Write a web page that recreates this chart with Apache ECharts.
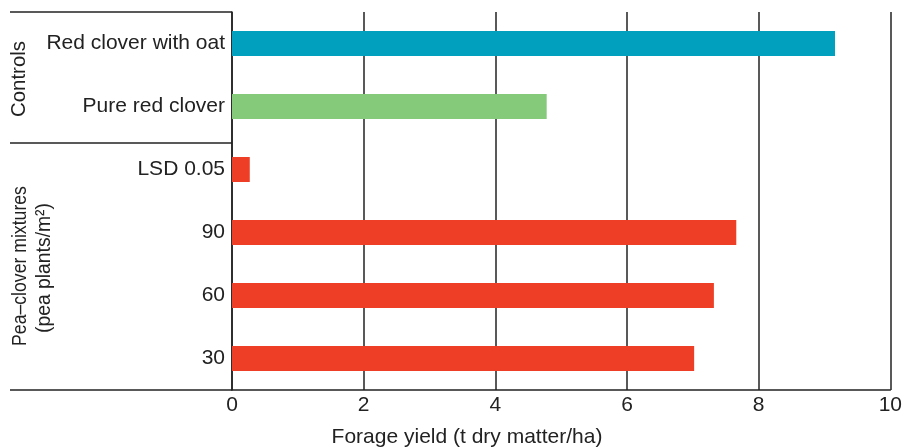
<!DOCTYPE html>
<html><head><meta charset="utf-8">
<script src="https://cdn.jsdelivr.net/npm/echarts@6/dist/echarts.min.js"></script>
<style>html,body{margin:0;padding:0;background:#fff}#c{width:905px;height:448px}</style>
</head><body><div id="c"></div>
<script>
const categories = ["Red clover with oat", "Pure red clover", "LSD 0.05", "90", "60", "30"];
const values = [9.16, 4.78, 0.27, 7.66, 7.32, 7.02];
const barColors = ["#00A0BE", "#85C97B", "#EF3E26", "#EF3E26", "#EF3E26", "#EF3E26"];
const xTicks = [0, 2, 4, 6, 8, 10];
const groupLabels = ["Controls", "Pea\u2013clover mixtures", "(pea plants/m\u00B2)"];
const xTitle = "Forage yield (t dry matter/ha)";

const font = "Liberation Sans, Arial, Helvetica, sans-serif";
const fs = 21;
const chart = echarts.init(document.getElementById('c'), null, {renderer: 'canvas'});
const lineStyle = {stroke: '#222', lineWidth: 1.5};
chart.setOption({
  animation: false,
  grid: {left: 232, right: 14, top: 12, bottom: 58, containLabel: false},
  xAxis: {
    type: 'value', min: xTicks[0], max: xTicks[xTicks.length - 1], interval: 2,
    axisLine: {show: true, lineStyle: {color: '#222', width: 1.5}},
    axisTick: {show: false},
    axisLabel: {fontFamily: font, fontSize: fs, color: '#222', margin: 5},
    splitLine: {show: true, lineStyle: {color: '#222', width: 1.5}}
  },
  yAxis: {
    type: 'category', data: categories, inverse: true,
    axisLine: {show: true, lineStyle: {color: '#222', width: 1.5}},
    axisTick: {show: false},
    axisLabel: {fontFamily: font, fontSize: fs, color: '#222', margin: 7}
  },
  series: [{
    type: 'bar', barWidth: 25,
    data: values.map((v, i) => ({value: v, itemStyle: {color: barColors[i]}}))
  }],
  graphic: [
    {type: 'line', shape: {x1: 10, y1: 12, x2: 232, y2: 12}, style: lineStyle},
    {type: 'line', shape: {x1: 10, y1: 143, x2: 232, y2: 143}, style: lineStyle},
    {type: 'line', shape: {x1: 10, y1: 390, x2: 232, y2: 390}, style: lineStyle},
    {type: 'text', x: 19, y: 79, rotation: Math.PI / 2, scaleX: 0.97,
     style: {text: groupLabels[0], fontFamily: font, fontSize: fs, fill: '#222', align: 'center', verticalAlign: 'middle'}},
    {type: 'text', x: 20, y: 266, rotation: Math.PI / 2, scaleX: 0.84,
     style: {text: groupLabels[1], fontFamily: font, fontSize: fs, fill: '#222', align: 'center', verticalAlign: 'middle'}},
    {type: 'text', x: 44, y: 268, rotation: Math.PI / 2, scaleX: 0.92,
     style: {text: groupLabels[2], fontFamily: font, fontSize: fs, fill: '#222', align: 'center', verticalAlign: 'middle'}},
    {type: 'text', x: 467, y: 437,
     style: {text: xTitle, fontFamily: font, fontSize: fs, fill: '#222', align: 'center', verticalAlign: 'middle'}}
  ]
});
</script></body></html>
